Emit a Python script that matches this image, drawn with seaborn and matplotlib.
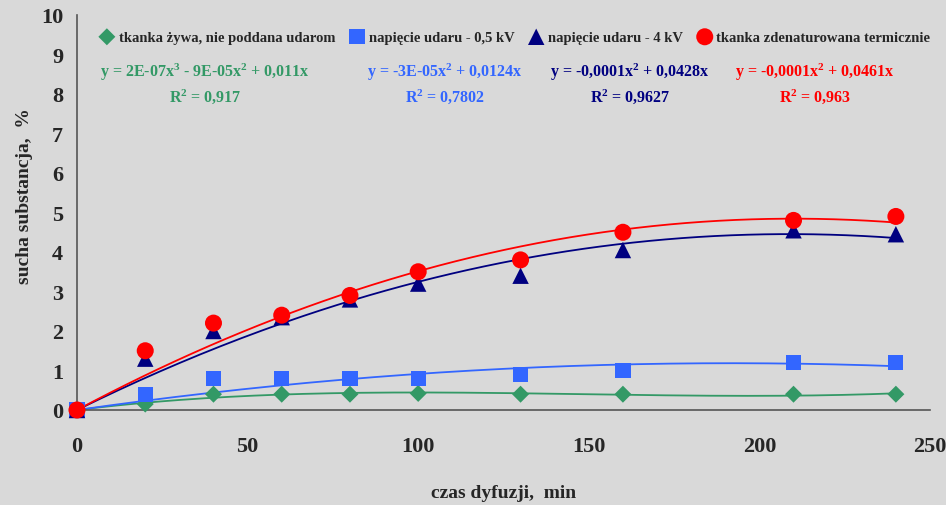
import numpy as np
import pandas as pd
import matplotlib
matplotlib.use('Agg')
import matplotlib.pyplot as plt
import seaborn as sns

# data
czas = [0, 20, 40, 60, 80, 100, 130, 160, 210, 240]
zywa = [0, 0.15, 0.4, 0.4, 0.4, 0.42, 0.4, 0.4, 0.4, 0.4]
u05 = [0, 0.4, 0.8, 0.8, 0.8, 0.8, 0.9, 1.0, 1.2, 1.2]
u4 = [0, 1.3, 2.0, 2.35, 2.8, 3.2, 3.4, 4.05, 4.55, 4.45]
term = [0, 1.5, 2.2, 2.4, 2.9, 3.5, 3.8, 4.5, 4.8, 4.9]

names = ['tkanka żywa, nie poddana udarom', 'napięcie udaru - 0,5 kV',
         'napięcie udaru - 4 kV', 'tkanka zdenaturowana termicznie']
colors = ['#339966', '#3366FF', '#000080', '#FF0000']
markers = ['D', 's', '^', 'o']
msizes = [75, 120, 140, 150]
degrees = [3, 2, 2, 2]
equations = ['y = 2E-07x$^3$ - 9E-05x$^2$ + 0,011x\nR$^2$ = 0,917',
             'y = -3E-05x$^2$ + 0,0124x\nR$^2$ = 0,7802',
             'y = -0,0001x$^2$ + 0,0428x\nR$^2$ = 0,9627',
             'y = -0,0001x$^2$ + 0,0461x\nR$^2$ = 0,963']
eq_x = [205, 445, 630, 815]

sns.set_style('white')
plt.rcParams['font.family'] = ['Liberation Serif', 'DejaVu Serif']
plt.rcParams['font.weight'] = 'bold'
plt.rcParams['mathtext.fontset'] = 'custom'
plt.rcParams['mathtext.rm'] = 'Liberation Serif:bold'
plt.rcParams['mathtext.it'] = 'Liberation Serif:bold'

bg = '#d9d9d9'
fig = plt.figure(figsize=(9.46, 5.06), dpi=100, facecolor=bg)
ax = fig.add_axes([77/946, 95/506, 853/946, 395/506])
ax.set_facecolor(bg)

x = np.array(czas, dtype=float)
xs = np.linspace(0, 240, 200)
for vals, name, c, m, s, d in zip([zywa, u05, u4, term], names, colors, markers, msizes, degrees):
    y = np.array(vals)
    # polynomial trend through origin (least squares)
    A = np.vstack([x**k for k in range(d, 0, -1)]).T
    coef = np.linalg.lstsq(A, y, rcond=None)[0]
    ys = sum(coef[i] * xs**(d - i) for i in range(d))
    sns.lineplot(x=xs, y=ys, color=c, lw=1.3, ax=ax)
    sns.scatterplot(x=x, y=y, color=c, marker=m, s=s, edgecolor='none', ax=ax, label=name, clip_on=False, zorder=3)

ax.set_xlim(0, 250)
ax.set_ylim(0, 10)
ax.set_xticks(range(0, 251, 50))
ax.set_yticks(range(0, 11))
for sp in ['top', 'right']:
    ax.spines[sp].set_visible(False)
for sp in ['left', 'bottom']:
    ax.spines[sp].set_color('#555555')
    ax.spines[sp].set_linewidth(1.2)
ax.tick_params(axis='both', direction='out', length=6, width=1, color='#555555', labelsize=16)
ax.tick_params(axis='x', pad=13)
ax.tick_params(axis='y', pad=4)
ax.set_xlabel('czas dyfuzji,  min', fontsize=14, fontweight='bold', labelpad=20)
ax.set_ylabel('sucha substancja,  %', fontsize=14, fontweight='bold')
ax.yaxis.set_label_coords(-0.0515, 0.545)

ax.get_legend().remove()
h, l = ax.get_legend_handles_labels()
fig.legend(h, l, ncol=4, loc='center', bbox_to_anchor=(515/946, 1 - 38/506), frameon=False,
           handletextpad=0.3, columnspacing=1.0, handlelength=1.0,
           prop={'weight': 'bold', 'size': 10.5})

for eq, ex, c in zip(equations, eq_x, colors):
    fig.text(ex/946, 1 - 84/506, eq, color=c, fontsize=11.5, fontweight='bold', ha='center', va='center',
             linespacing=1.3, multialignment='center')

fig.savefig('out.png', dpi=100, facecolor=bg)
